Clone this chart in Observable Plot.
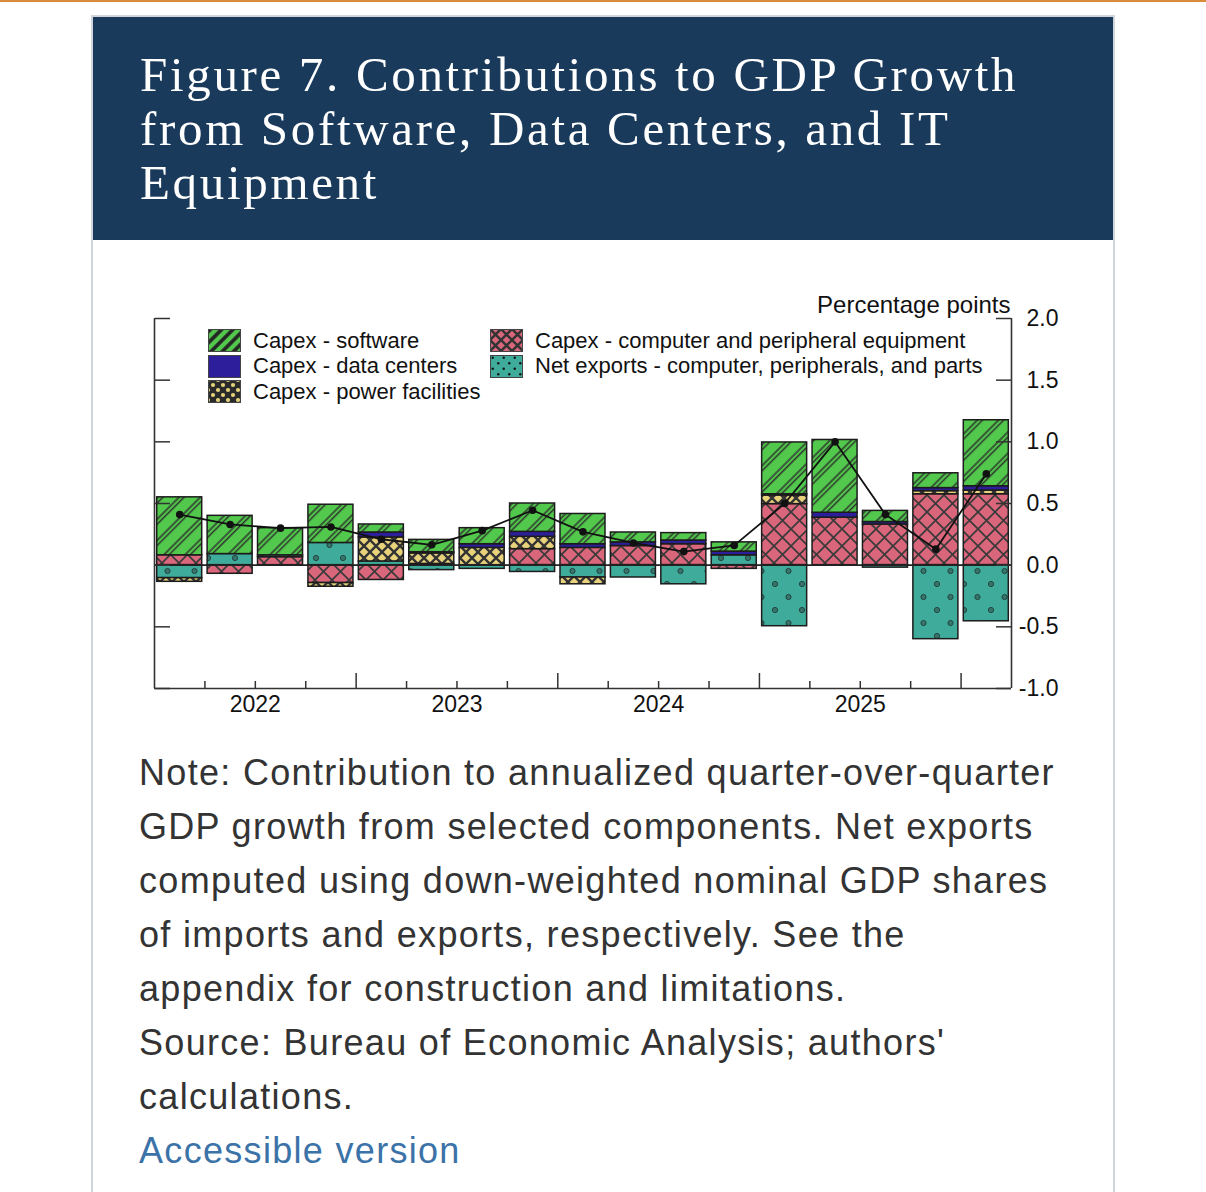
<!DOCTYPE html>
<html>
<head>
<meta charset="utf-8">
<script src="https://cdn.jsdelivr.net/npm/d3@7"></script>
<script src="https://cdn.jsdelivr.net/npm/@observablehq/plot@0.6"></script>
<style>
  html, body { margin: 0; padding: 0; background: #fff; }
  body { width: 1206px; height: 1192px; position: relative; overflow: hidden; font-family: "Liberation Sans", Arial, sans-serif; }
  #topline { position: absolute; left: 0; top: 0; width: 1206px; height: 2px; background: #d98b3c; }
  #card { position: absolute; left: 91px; top: 15px; width: 1020px; height: 1200px; border: 2px solid #cfd5da; border-bottom: none; }
  #header { position: absolute; left: 93px; top: 17px; width: 1020px; height: 223px; background: #1a3a5b; }
  #title { position: absolute; left: 140px; top: 48px; color: #fff; font-family: "Liberation Serif", "Times New Roman", serif; font-size: 49px; line-height: 54px; white-space: nowrap; }
  #chart { position: absolute; left: 94px; top: 240px; }
  #legend .row { position: absolute; display: flex; align-items: center; height: 23px; font-size: 22px; color: #111; white-space: nowrap; }
  #legend svg { display: block; margin-right: 12px; }
  #note { position: absolute; left: 139px; top: 746px; font-size: 36px; line-height: 54px; color: #333; white-space: nowrap; }
  #note a { color: #3b72a8; text-decoration: none; }
</style>
</head>
<body>
<svg width="0" height="0" style="position:absolute;left:0;top:0">
  <defs>
    <!-- chart patterns -->
    <pattern id="p-software" patternUnits="userSpaceOnUse" width="15" height="15" patternTransform="rotate(45)">
      <rect width="15" height="15" fill="#52c84c"/>
      <line x1="2" y1="-1" x2="2" y2="16" stroke="#2b2b2b" stroke-width="1.4"/>
      <line x1="5.6" y1="-1" x2="5.6" y2="16" stroke="#2b2b2b" stroke-width="1.4"/>
    </pattern>
    <pattern id="p-data" patternUnits="userSpaceOnUse" width="10" height="10">
      <rect width="10" height="10" fill="#2d1f9c"/>
    </pattern>
    <pattern id="p-power" patternUnits="userSpaceOnUse" width="12" height="12">
      <rect width="12" height="12" fill="#e8d37c"/>
      <path d="M0,0L12,12M12,0L0,12" stroke="#333" stroke-width="2.4"/>
    </pattern>
    <pattern id="p-computer" patternUnits="userSpaceOnUse" width="17" height="17">
      <rect width="17" height="17" fill="#d9667b"/>
      <path d="M0,0L17,17M17,0L0,17" stroke="#3a3a3a" stroke-width="1.7"/>
    </pattern>
    <pattern id="p-netexp" patternUnits="userSpaceOnUse" width="27" height="26">
      <rect width="27" height="26" fill="#3fab9b"/>
      <circle cx="6" cy="6" r="2.6" fill="#35756c" stroke="#23443f" stroke-width="1"/>
      <circle cx="19.5" cy="19" r="2.6" fill="#35756c" stroke="#23443f" stroke-width="1"/>
    </pattern>
    <!-- legend patterns -->
    <pattern id="l-software" patternUnits="userSpaceOnUse" width="8" height="8" patternTransform="rotate(45)">
      <rect width="8" height="8" fill="#52c84c"/>
      <line x1="2" y1="-1" x2="2" y2="9" stroke="#222" stroke-width="3.6"/>
    </pattern>
    <pattern id="l-data" patternUnits="userSpaceOnUse" width="10" height="10">
      <rect width="10" height="10" fill="#2d1f9c"/>
    </pattern>
    <pattern id="l-power" patternUnits="userSpaceOnUse" width="10" height="10">
      <rect width="10" height="10" fill="#2a2a2a"/>
      <circle cx="0" cy="0" r="2.1" fill="#e6d37a"/>
      <circle cx="10" cy="0" r="2.1" fill="#e6d37a"/>
      <circle cx="0" cy="10" r="2.1" fill="#e6d37a"/>
      <circle cx="10" cy="10" r="2.1" fill="#e6d37a"/>
      <circle cx="5" cy="5" r="2.1" fill="#e6d37a"/>
    </pattern>
    <pattern id="l-computer" patternUnits="userSpaceOnUse" width="11" height="11">
      <rect width="11" height="11" fill="#d9667b"/>
      <path d="M0,0L11,11M11,0L0,11" stroke="#333" stroke-width="2.5"/>
    </pattern>
    <pattern id="l-netexp" patternUnits="userSpaceOnUse" width="11" height="11">
      <rect width="11" height="11" fill="#3fab9b"/>
      <circle cx="2.75" cy="2.75" r="1.2" fill="#111"/>
      <circle cx="8.25" cy="8.25" r="1.2" fill="#111"/>
    </pattern>
  </defs>
</svg>

<div id="topline"></div>
<div id="card"></div>
<div id="header"></div>
<div id="title">Figure 7. Contributions to GDP Growth<br>from Software, Data Centers, and IT<br>Equipment</div>
<div id="chart"></div>
<div id="legend"></div>
<div id="note">Note: Contribution to annualized quarter-over-quarter<br>GDP growth from selected components. Net exports<br>computed using down-weighted nominal GDP shares<br>of imports and exports, respectively. See the<br>appendix for construction and limitations.<br>Source: Bureau of Economic Analysis; authors'<br>calculations.<br><a href="#">Accessible version</a></div>

<script>
// ---------------- data ----------------
const quarters = ["2022Q1","2022Q2","2022Q3","2022Q4","2023Q1","2023Q2","2023Q3","2023Q4",
                  "2024Q1","2024Q2","2024Q3","2024Q4","2025Q1","2025Q2","2025Q3","2025Q4","2026Q1"];
const yearLabels = ["2022","2023","2024","2025"];

const computerEquipment = [0.08,-0.07,0.065,-0.145,-0.12,0.01,0.00,0.13,0.14,0.155,0.17,-0.03,0.495,0.385,0.33,0.575,0.575];
const netExports        = [-0.105,0.09,0.015,0.18,0.03,-0.04,-0.03,-0.055,-0.10,-0.10,-0.155,0.08,-0.495,0.00,-0.02,-0.60,-0.455];
const powerFacilities   = [-0.03,0.00,0.00,-0.03,0.195,0.085,0.14,0.10,-0.055,0.00,0.00,0.00,0.07,0.00,0.00,0.025,0.03];
const dataCenters       = [0.00,0.00,0.00,0.00,0.04,0.01,0.03,0.04,0.03,0.03,0.03,0.03,0.01,0.04,0.02,0.025,0.035];
const software          = [0.47,0.31,0.22,0.31,0.065,0.10,0.13,0.23,0.245,0.08,0.06,0.075,0.42,0.59,0.09,0.12,0.535];
const total             = [0.41,0.33,0.30,0.31,0.21,0.165,0.28,0.445,0.27,0.18,0.11,0.16,0.50,1.00,0.41,0.13,0.74];

const yTicks = [-1.0,-0.5,0.0,0.5,1.0,1.5,2.0];
const yDomain = [-1, 2];

// stacking order from zero outward
const series = [
  {name: "Capex - computer and peripheral equipment", values: computerEquipment, chart: "p-computer", legend: "l-computer"},
  {name: "Net exports - computer, peripherals, and parts", values: netExports, chart: "p-netexp", legend: "l-netexp"},
  {name: "Capex - power facilities", values: powerFacilities, chart: "p-power", legend: "l-power"},
  {name: "Capex - data centers", values: dataCenters, chart: "p-data", legend: "l-data"},
  {name: "Capex - software", values: software, chart: "p-software", legend: "l-software"}
];
const seriesOrder = series.map(s => s.name);

// ---------------- tables built from the arrays ----------------
const rows = [];
series.forEach(s => s.values.forEach((v, i) => {
  if (v !== 0) rows.push({series: s.name, x1: i, x2: i + 1, value: v});
}));
const totalRows = total.map((v, i) => ({x: i + 0.5, y: v}));

// quarter boundaries; year boundaries where a Q1 starts
const smallTicks = [], bigTicks = [];
quarters.forEach((q, i) => { if (i > 0) (q.endsWith("Q1") ? bigTicks : smallTicks).push(i); });
const yearCenters = yearLabels.map(y => {
  const idx = quarters.map((q, i) => q.startsWith(y) ? i : -1).filter(i => i >= 0);
  return (d3.min(idx) + d3.max(idx) + 1) / 2;
});
const yearName = new Map(yearCenters.map((c, k) => [c, yearLabels[k]]));
const fmt = d => (Math.abs(d) < 1e-9 ? 0 : d).toFixed(1);

const lineColor = "#333";

const chart = Plot.plot({
  width: 1018,
  height: 500,
  marginLeft: 60,
  marginRight: 101,
  marginTop: 78,
  marginBottom: 52,
  x: {type: "linear", domain: [0, quarters.length]},
  y: {domain: yDomain, label: null},
  color: {type: "ordinal", domain: seriesOrder, range: series.map(s => `url(#${s.chart})`)},
  style: {fontFamily: "'Liberation Sans', Arial, sans-serif", fontSize: "23px", color: "#000", background: "transparent", overflow: "visible"},
  marks: [
    Plot.rectY(rows, {x1: "x1", x2: "x2", y: "value", fill: "series", order: seriesOrder,
      stroke: "#1c1c1c", strokeWidth: 1.5, insetLeft: 2.7, insetRight: 2.7}),
    Plot.ruleY([0], {stroke: "#222", strokeWidth: 1.6}),
    Plot.line(totalRows, {x: "x", y: "y", stroke: "#111", strokeWidth: 1.8}),
    Plot.dot(totalRows, {x: "x", y: "y", r: 3.8, fill: "#111", stroke: "none"}),
    // frame: left, right, bottom
    Plot.ruleX([0, quarters.length], {stroke: lineColor, strokeWidth: 1.6}),
    Plot.ruleY([yDomain[0]], {stroke: lineColor, strokeWidth: 1.6}),
    // inward ticks on left and right frame lines
    Plot.axisY(yTicks, {anchor: "right", frameAnchor: "left", tickSize: 15, fill: "none", stroke: lineColor, strokeWidth: 1.5, label: null}),
    Plot.axisY(yTicks, {anchor: "left", frameAnchor: "right", tickSize: 15, fill: "none", stroke: lineColor, strokeWidth: 1.5, label: null}),
    // right tick labels
    Plot.axisY(yTicks, {anchor: "right", tickSize: 0, tickPadding: 3, textAnchor: "end", dx: 44, tickFormat: fmt, fill: "#111", label: null}),
    // bottom ticks pointing up
    Plot.axisX(smallTicks, {anchor: "top", frameAnchor: "bottom", tickSize: 8, fill: "none", stroke: lineColor, strokeWidth: 1.5, label: null}),
    Plot.axisX(bigTicks, {anchor: "top", frameAnchor: "bottom", tickSize: 16, fill: "none", stroke: lineColor, strokeWidth: 1.5, label: null}),
    // year labels
    Plot.axisX(yearCenters, {anchor: "bottom", tickSize: 0, tickPadding: 7, tickFormat: d => yearName.get(d), fill: "#111", label: null}),
    Plot.text(["Percentage points"], {frameAnchor: "top-right", textAnchor: "end", lineAnchor: "bottom", dx: -1, dy: -6, fill: "#111", fontSize: 24})
  ]
});
document.getElementById("chart").appendChild(chart);

// ---------------- legend (HTML, inside the plot frame) ----------------
const legendLayout = [
  {name: "Capex - software", left: 208, top: 329},
  {name: "Capex - data centers", left: 208, top: 354.5},
  {name: "Capex - power facilities", left: 208, top: 380},
  {name: "Capex - computer and peripheral equipment", left: 490, top: 329},
  {name: "Net exports - computer, peripherals, and parts", left: 490, top: 354.5}
];
const legend = document.getElementById("legend");
legendLayout.forEach(l => {
  const s = series.find(d => d.name === l.name);
  const row = document.createElement("div");
  row.className = "row";
  row.style.left = l.left + "px";
  row.style.top = l.top + "px";
  row.innerHTML = `<svg width="33" height="23"><rect x="0.5" y="0.5" width="32" height="22" fill="url(#${s.legend})" stroke="#444" stroke-width="1"/></svg><span>${s.name}</span>`;
  legend.appendChild(row);
});

// fit letter-spacing so text lines span the reference widths
function fitSpacing(id, font, line, target) {
  const c = document.createElement("canvas").getContext("2d");
  c.font = font;
  const w = c.measureText(line).width;
  if (w > 0) {
    const ls = Math.max(0, Math.min(4, (target - w) / line.length));
    document.getElementById(id).style.letterSpacing = ls.toFixed(2) + "px";
  }
}
fitSpacing("title", '49px "Liberation Serif"', "Figure 7. Contributions to GDP Growth", 880);
fitSpacing("note", '36px "Liberation Sans"', "Note: Contribution to annualized quarter-over-quarter", 916);
</script>
</body>
</html>
